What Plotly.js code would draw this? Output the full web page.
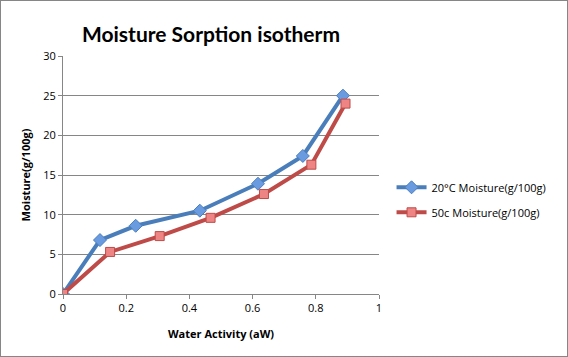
<!DOCTYPE html>
<html>
<head>
<meta charset="utf-8">
<script src="https://cdn.plot.ly/plotly-3.0.1.min.js"></script>
<style>
html,body{margin:0;padding:0;background:#fff;}
#chart{width:568px;height:357px;box-sizing:border-box;border:1px solid #868686;}
</style>
</head>
<body>
<div id="chart"></div>
<script>
var title = "Moisture Sorption isotherm";
var xTitle = "Water Activity (aW)";
var yTitle = "Moisture(g/100g)";
var series1Name = "20°C Moisture(g/100g)";
var series2Name = "50c Moisture(g/100g)";
var aw20 = [0, 0.117, 0.23, 0.433, 0.617, 0.759, 0.886];
var moist20 = [0, 6.8, 8.6, 10.5, 13.9, 17.4, 25.0];
var aw50 = [0, 0.149, 0.306, 0.467, 0.636, 0.786, 0.894];
var moist50 = [0, 5.3, 7.3, 9.6, 12.6, 16.3, 24.0];

var traces = [
  {x: aw20, y: moist20, name: series1Name, legendgroup: 'a', type: 'scatter', mode: 'lines+markers',
   line: {color: '#4A7EBB', width: 4},
   marker: {symbol: 'diamond', size: 10, color: '#6A9BE0', line: {color: '#4A7EBB', width: 1}}},
  {x: aw50, y: moist50, name: series2Name, legendgroup: 'b', type: 'scatter', mode: 'lines+markers',
   line: {color: '#BE4B48', width: 4},
   marker: {symbol: 'square', size: 9, color: '#EE8584', line: {color: '#BE4B48', width: 1}}}
];

var layout = {
  width: 566, height: 355,
  margin: {l: 62, r: 188, t: 55, b: 62},
  paper_bgcolor: '#fff', plot_bgcolor: '#fff',
  font: {family: 'Open Sans, DejaVu Sans, sans-serif', size: 11, color: '#000'},
  title: {text: '<b>' + title + '</b>', font: {size: 21, family: 'Lato, sans-serif', color: '#000'},
          x: 0.371, xanchor: 'center', y: 0.905, yanchor: 'middle'},
  xaxis: {range: [0, 1], dtick: 0.2, showgrid: false, zeroline: false,
          showline: true, linecolor: '#868686', linewidth: 1,
          ticks: 'outside', ticklen: 4, tickcolor: '#868686',
          tickfont: {size: 11},
          title: {text: '<b>' + xTitle + '</b>', font: {size: 11}, standoff: 16}},
  yaxis: {range: [0, 30], dtick: 5, showgrid: true, gridcolor: '#868686', gridwidth: 1,
          zeroline: false, showline: true, linecolor: '#868686', linewidth: 1,
          ticks: 'outside', ticklen: 4, tickcolor: '#868686',
          tickfont: {size: 11},
          title: {text: '<b>' + yTitle + '</b>', font: {size: 11}, standoff: 10}},
  legend: {xref: 'container', yref: 'container', x: 0.69, y: 0.44, xanchor: 'left', yanchor: 'middle',
           font: {size: 11}, traceorder: 'grouped', tracegroupgap: 6, itemwidth: 30, bgcolor: 'rgba(0,0,0,0)'},
  showlegend: true
};
Plotly.newPlot('chart', traces, layout, {displayModeBar: false, staticPlot: true});
</script>
</body>
</html>
